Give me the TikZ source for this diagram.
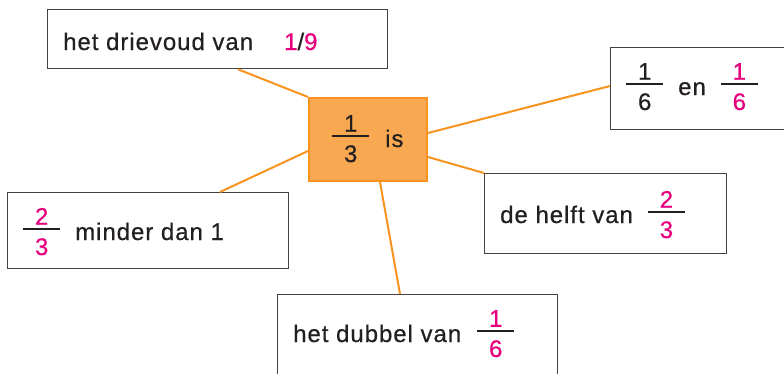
\documentclass[tikz,border=0pt]{standalone}
\usepackage{fontspec}
\setmainfont{Liberation Sans}[LetterSpace=4, FakeBold=0.5]
\usetikzlibrary{calc}
\definecolor{ink}{HTML}{231F20}
\definecolor{mag}{HTML}{E6007E}
\definecolor{orfill}{HTML}{F9A852}
\definecolor{orline}{HTML}{F7931E}
\newcommand\fr[3][ink]{\lower15pt\vbox{\hbox to 37pt{\hss\textcolor{#1}{#2}\hss}\kern3pt\hrule height 2pt\kern8.5pt\hbox to 37pt{\hss\textcolor{#1}{#3}\hss}}}
\begin{document}
\begin{tikzpicture}[x=1pt,y=-1pt,
  box/.style={draw=ink!85, line width=1.3pt, fill=white, inner sep=0pt, anchor=north west},
  hub/.style={draw=orline, line width=2pt, fill=orfill, inner sep=0pt, anchor=north west},
  lbl/.style={anchor=base west, inner sep=0pt, text=ink, font=\fontsize{24}{29}\selectfont},
  link/.style={draw=orline, line width=2pt}]
\useasboundingbox (0,0) rectangle (784,373);
\clip (0,0) rectangle (784,373);
\node[box, minimum width=340pt, minimum height=59pt] (b1) at (47,9) {};
\node[hub, minimum width=118pt, minimum height=83pt] (c) at (308,97) {};
\node[box, minimum width=190pt, minimum height=82pt] (b2) at (610,47) {};
\node[box, minimum width=281pt, minimum height=76pt] (b3) at (7,192) {};
\node[box, minimum width=242pt, minimum height=80pt] (b4) at (484,173) {};
\node[box, minimum width=280pt, minimum height=90pt] (b5) at (277,294) {};
\draw[link] ($(b1.south west)+(191,0)$) -- (c.north west);
\draw[link] ($(c.north east)+(0,36)$) -- ($(b2.north west)+(0,39)$);
\draw[link] ($(c.north east)+(0,60)$) -- (b4.north west);
\draw[link] ($(c.north west)+(0,54)$) -- ($(b3.north west)+(213,0)$);
\draw[link] ($(c.south west)+(72,0)$) -- ($(b5.north west)+(123,0)$);
\node[lbl] (t1) at (63,50) {het drievoud van\hspace{31pt}\textcolor{mag}{1}/\textcolor{mag}{9}};
\node[lbl] (t0) at (332,147) {\fr{1}{3}\hspace{16pt}is};
\node[lbl] (t2) at (626,95) {\fr{1}{6}\hspace{15pt}en\hspace{15pt}\fr[mag]{1}{6}};
\node[lbl] (t3) at (23,240) {\fr[mag]{2}{3}\hspace{15pt}minder dan 1};
\node[lbl] (t4) at (500,223) {de helft van\hspace{15pt}\fr[mag]{2}{3}};
\node[lbl] (t5) at (293,342) {het dubbel van\hspace{16pt}\fr[mag]{1}{6}};
\end{tikzpicture}
\end{document}
